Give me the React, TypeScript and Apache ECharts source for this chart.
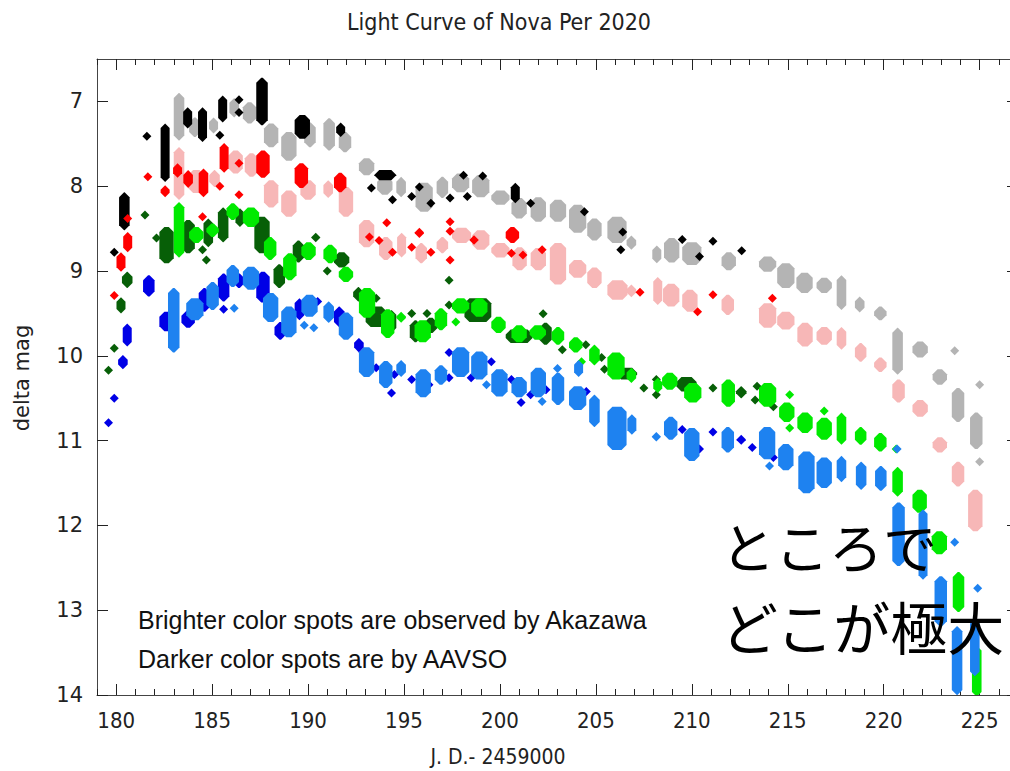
import React, { useEffect, useRef } from "react";
import * as echarts from "echarts";

// Each item: [jdMin, jdMax, magTop, magBottom] (JD - 2459000, delta mag)
const aavsoBlack = [
  [180.15, 180.7, 8.07, 8.52], [179.9, 179.9, 8.78, 8.78], [181.6, 181.6, 7.41, 7.41],
  [182.4, 182.7, 7.26, 7.95], [183.55, 183.9, 7.07, 7.32], [184.3, 184.7, 7.07, 7.48],
  [185.4, 185.7, 6.93, 7.25], [186.4, 186.4, 6.98, 6.98], [186.4, 186.4, 7.13, 7.13],
  [187.3, 187.9, 6.72, 7.28], [185.4, 185.4, 7.4, 7.4], [189.3, 190.1, 7.16, 7.44],
  [191.5, 191.9, 7.25, 7.42], [193.45, 194.6, 7.81, 7.93], [193.3, 193.3, 8.02, 8.02],
  [194.4, 194.4, 8.16, 8.16], [195.4, 195.4, 8.12, 8.12], [195.8, 195.8, 8.01, 8.01],
  [196.4, 196.4, 8.2, 8.2], [197.4, 197.4, 8.14, 8.14], [198.3, 198.3, 8.12, 8.12],
  [198.1, 198.1, 7.87, 7.87], [199.1, 199.1, 7.88, 7.88], [200.6, 201.0, 7.96, 8.2],
  [201.6, 201.6, 8.2, 8.2], [204.4, 204.4, 8.3, 8.3], [206.4, 206.4, 8.54, 8.54],
  [206.3, 206.3, 8.75, 8.75], [209.5, 209.5, 8.63, 8.63], [210.4, 210.4, 8.83, 8.83],
  [211.1, 211.1, 8.65, 8.65], [212.6, 212.6, 8.76, 8.76],
];

const akazawaGray = [
  [183.0, 183.55, 6.9, 7.46], [183.8, 184.4, 7.19, 7.42], [184.85, 185.3, 7.19, 7.38],
  [185.9, 186.4, 6.96, 7.19], [186.6, 187.3, 7.01, 7.26], [187.7, 188.45, 7.26, 7.54],
  [188.6, 189.4, 7.36, 7.7], [189.8, 190.4, 7.25, 7.54], [190.8, 191.4, 7.2, 7.58],
  [191.6, 192.25, 7.36, 7.6], [192.65, 193.45, 7.67, 7.87], [193.6, 194.4, 7.89, 8.1],
  [194.6, 195.1, 7.89, 8.13], [195.6, 196.5, 7.96, 8.3], [196.7, 197.3, 7.89, 8.14],
  [197.5, 198.4, 7.85, 8.07], [198.55, 199.45, 7.87, 8.13], [199.55, 200.5, 8.05, 8.22],
  [200.6, 201.4, 8.14, 8.38], [201.6, 202.4, 8.13, 8.42], [202.6, 203.45, 8.16, 8.42],
  [203.6, 204.5, 8.22, 8.55], [204.55, 205.3, 8.38, 8.64], [205.6, 206.6, 8.36, 8.67],
  [206.6, 207.1, 8.58, 8.75], [207.95, 208.4, 8.7, 8.91], [208.55, 209.35, 8.61, 8.9],
  [209.5, 210.5, 8.66, 8.93], [211.55, 212.3, 8.78, 8.99], [213.5, 214.4, 8.83, 9.01],
  [214.45, 215.35, 8.91, 9.2], [215.45, 216.3, 9.02, 9.26], [216.5, 217.3, 9.08, 9.26],
  [217.55, 218.05, 9.05, 9.46], [218.5, 219.0, 9.3, 9.49], [219.5, 220.15, 9.42, 9.58],
  [220.45, 221.0, 9.67, 10.22], [221.5, 222.3, 9.83, 10.02], [222.55, 223.3, 10.16, 10.34],
  [223.55, 224.2, 10.38, 10.78], [223.7, 223.7, 9.94, 9.94], [224.5, 225.15, 10.67, 11.1],
  [225.0, 225.0, 10.34, 10.34], [225.0, 225.0, 11.25, 11.25],
];

const aavsoRed = [
  [180.6, 180.6, 8.38, 8.38], [180.4, 180.8, 8.54, 8.78], [180.1, 180.4, 8.78, 9.01],
  [179.9, 179.9, 9.29, 9.29], [181.65, 181.65, 7.89, 7.89], [182.5, 182.6, 7.99, 8.13],
  [183.1, 183.3, 7.73, 7.9], [183.5, 184.0, 7.81, 8.02], [184.3, 184.8, 7.79, 8.13],
  [185.4, 185.85, 7.49, 7.84], [185.4, 185.4, 8.0, 8.0], [186.4, 186.4, 8.1, 8.1],
  [186.4, 186.4, 7.73, 7.73], [184.5, 184.5, 8.36, 8.36], [187.3, 188.0, 7.58, 7.9],
  [189.3, 190.0, 7.73, 8.02], [191.35, 192.0, 7.84, 8.07], [193.2, 193.2, 8.6, 8.6],
  [194.1, 194.1, 8.43, 8.43], [193.7, 193.7, 8.64, 8.64], [195.4, 195.4, 8.72, 8.72],
  [194.4, 194.4, 8.78, 8.78], [195.8, 195.8, 8.49, 8.61], [196.4, 196.4, 8.78, 8.78],
  [197.4, 197.4, 8.42, 8.42], [197.4, 197.4, 8.53, 8.53], [197.4, 197.4, 8.87, 8.87],
  [198.4, 198.9, 8.6, 8.67], [200.3, 201.0, 8.48, 8.67], [200.6, 200.6, 8.79, 8.79],
  [201.2, 201.2, 8.81, 8.81], [202.2, 202.2, 8.75, 8.75], [207.3, 207.3, 9.25, 9.25],
  [210.3, 210.3, 9.48, 9.48], [211.1, 211.1, 9.28, 9.28], [214.2, 214.2, 9.32, 9.32],
];

const akazawaPink = [
  [183.0, 183.55, 7.54, 8.16], [183.75, 184.6, 7.81, 8.08], [184.85, 185.4, 7.81, 8.01],
  [185.85, 186.6, 7.58, 7.85], [186.7, 187.4, 7.61, 7.89], [187.7, 188.45, 7.93, 8.25],
  [188.6, 189.4, 8.05, 8.36], [189.6, 190.4, 7.93, 8.16], [190.8, 191.3, 7.93, 8.14],
  [191.6, 192.35, 8.01, 8.36], [192.65, 193.45, 8.4, 8.72], [193.7, 194.4, 8.6, 8.87],
  [194.65, 195.1, 8.55, 8.84], [195.6, 196.2, 8.67, 8.91], [196.7, 197.3, 8.6, 8.79],
  [197.5, 198.5, 8.49, 8.67], [198.55, 199.45, 8.52, 8.75], [199.55, 200.5, 8.67, 8.84],
  [200.65, 201.4, 8.72, 8.99], [201.6, 202.4, 8.73, 8.99], [202.6, 203.45, 8.67, 9.16],
  [203.6, 204.5, 8.87, 9.08], [204.55, 205.3, 8.96, 9.2], [205.6, 206.65, 9.11, 9.34],
  [206.6, 207.1, 9.16, 9.31], [208.05, 208.4, 9.07, 9.4], [208.5, 209.35, 9.15, 9.42],
  [209.5, 210.3, 9.22, 9.48], [211.55, 212.2, 9.28, 9.52], [213.5, 214.4, 9.38, 9.67],
  [214.45, 215.35, 9.48, 9.69], [215.5, 216.3, 9.61, 9.89], [216.5, 217.3, 9.66, 9.87],
  [217.55, 218.05, 9.66, 9.93], [218.5, 219.1, 9.85, 10.07], [219.5, 220.15, 10.02, 10.19],
  [220.45, 221.1, 10.28, 10.55], [221.5, 222.3, 10.52, 10.72], [222.55, 223.3, 10.96, 11.14],
  [223.55, 224.2, 11.25, 11.54], [224.4, 225.15, 11.58, 12.07],
];

const aavsoDarkGreen = [
  [179.6, 179.6, 10.17, 10.17], [179.9, 179.9, 9.91, 9.91], [180.1, 180.4, 9.31, 9.5],
  [180.3, 180.85, 9.01, 9.2], [181.5, 181.5, 8.34, 8.34], [182.1, 182.1, 8.61, 8.61],
  [182.25, 183.0, 8.48, 8.91], [183.4, 184.1, 8.4, 8.79], [184.5, 184.5, 8.75, 8.75],
  [184.7, 184.7, 8.87, 8.87], [184.55, 185.05, 8.38, 8.72], [185.3, 185.85, 8.25, 8.66],
  [186.25, 186.65, 8.26, 8.48], [187.2, 188.0, 8.36, 8.79], [188.2, 188.8, 8.92, 9.2],
  [189.2, 189.8, 8.64, 8.9], [190.4, 190.4, 8.55, 8.66], [191.35, 192.15, 8.78, 8.96],
  [191.0, 191.0, 9.0, 9.0], [192.35, 192.9, 9.19, 9.36], [193.55, 193.55, 9.32, 9.32],
  [193.0, 194.1, 9.42, 9.66], [194.1, 194.6, 9.46, 9.73], [195.4, 195.4, 9.5, 9.5],
  [195.3, 195.9, 9.58, 9.84], [196.2, 196.2, 9.5, 9.5], [196.05, 196.75, 9.55, 9.73],
  [197.35, 197.35, 9.4, 9.4], [197.35, 197.35, 9.11, 9.11], [198.15, 199.55, 9.32, 9.6],
  [200.3, 201.7, 9.69, 9.85], [202.05, 202.7, 9.61, 9.87], [202.25, 202.25, 9.46, 9.55],
  [203.25, 203.25, 9.93, 9.93], [204.3, 204.65, 9.84, 9.9], [205.3, 205.3, 10.02, 10.02],
  [205.45, 205.45, 10.16, 10.16], [206.05, 207.15, 10.14, 10.28], [207.5, 207.5, 10.38, 10.38],
  [208.15, 208.15, 10.28, 10.28], [208.15, 208.15, 10.46, 10.46], [209.2, 210.25, 10.25, 10.42],
  [211.1, 211.1, 10.38, 10.38], [212.3, 212.85, 10.36, 10.5], [213.3, 213.3, 10.52, 10.52],
  [213.4, 213.4, 10.36, 10.36], [214.25, 214.25, 10.6, 10.6],
];

const akazawaGreen = [
  [183.0, 183.55, 8.19, 8.84], [183.8, 184.55, 8.48, 8.67], [184.7, 185.35, 8.44, 8.6],
  [185.75, 186.4, 8.2, 8.4], [186.6, 187.45, 8.25, 8.48], [187.7, 188.35, 8.6, 8.87],
  [188.7, 189.4, 8.79, 9.11], [189.65, 190.4, 8.66, 8.87], [190.8, 191.5, 8.69, 8.91],
  [191.6, 192.35, 8.95, 9.13], [192.65, 193.5, 9.2, 9.55], [193.8, 194.5, 9.45, 9.79],
  [194.6, 195.1, 9.48, 9.61], [195.55, 196.4, 9.58, 9.84], [196.6, 197.25, 9.44, 9.7],
  [197.7, 197.7, 9.6, 9.6], [197.5, 198.4, 9.32, 9.5], [198.5, 199.35, 9.32, 9.54],
  [199.55, 200.3, 9.54, 9.73], [200.6, 201.4, 9.64, 9.84], [201.55, 202.4, 9.64, 9.81],
  [202.7, 203.35, 9.66, 9.87], [203.6, 204.3, 9.78, 9.96], [204.25, 204.25, 10.07, 10.07],
  [204.65, 205.2, 9.87, 10.11], [205.6, 206.5, 9.96, 10.28], [206.6, 207.1, 10.14, 10.32],
  [208.05, 208.4, 10.26, 10.44], [208.45, 209.25, 10.2, 10.4], [209.6, 210.5, 10.32, 10.55],
  [211.55, 212.25, 10.28, 10.6], [213.5, 214.4, 10.32, 10.6], [214.55, 215.35, 10.55, 10.78],
  [215.1, 215.1, 10.46, 10.46], [215.1, 215.1, 10.85, 10.85], [215.5, 216.3, 10.67, 10.91],
  [216.5, 217.3, 10.73, 10.99], [216.9, 216.9, 10.65, 10.65], [217.55, 218.05, 10.67, 11.05],
  [218.5, 219.1, 10.84, 11.05], [219.5, 220.15, 10.91, 11.13], [220.65, 220.65, 11.1, 11.1],
  [220.45, 221.0, 11.31, 11.66], [221.5, 222.25, 11.58, 11.85], [222.5, 223.3, 12.07, 12.34],
  [223.6, 224.2, 12.55, 13.02], [224.6, 225.1, 13.42, 14.02],
];

const aavsoDarkBlue = [
  [179.6, 179.6, 10.79, 10.79], [179.9, 179.9, 10.5, 10.5], [180.1, 180.6, 9.99, 10.16],
  [180.35, 180.8, 9.62, 9.89], [181.4, 182.0, 9.05, 9.3], [182.25, 183.05, 9.48, 9.71],
  [183.4, 184.1, 9.47, 9.67], [184.3, 184.9, 9.2, 9.48], [185.3, 185.9, 9.03, 9.36],
  [185.6, 185.6, 9.45, 9.45], [186.1, 186.7, 9.03, 9.2], [187.3, 188.0, 9.01, 9.37],
  [188.25, 188.85, 9.6, 9.81], [189.3, 189.8, 9.32, 9.58], [190.5, 190.5, 9.36, 9.36],
  [191.35, 191.9, 9.42, 9.66], [192.4, 192.9, 9.79, 9.96], [192.65, 192.65, 9.85, 9.85],
  [193.55, 193.55, 10.14, 10.14], [194.35, 194.35, 10.44, 10.44], [194.5, 194.5, 10.22, 10.22],
  [195.4, 195.4, 10.28, 10.28], [196.3, 196.3, 10.34, 10.34], [197.35, 197.35, 9.96, 9.96],
  [197.35, 197.35, 10.26, 10.26], [198.5, 198.5, 10.26, 10.26], [199.55, 199.55, 10.07, 10.07],
  [200.6, 200.6, 10.28, 10.28], [201.1, 201.1, 10.55, 10.55], [201.6, 201.6, 10.46, 10.46],
  [202.4, 202.4, 10.4, 10.4], [204.5, 204.5, 10.42, 10.42], [209.5, 209.5, 10.87, 10.87],
  [210.4, 210.4, 11.1, 11.1], [211.1, 211.1, 10.9, 10.9], [212.4, 212.75, 10.93, 11.05],
  [213.15, 213.15, 11.08, 11.08], [214.25, 214.25, 11.2, 11.2],
];

const akazawaBlue = [
  [182.7, 183.3, 9.2, 9.96], [183.65, 184.55, 9.32, 9.58], [184.7, 185.35, 9.13, 9.46],
  [185.75, 186.4, 8.93, 9.19], [186.15, 186.15, 9.44, 9.44], [186.6, 187.45, 8.95, 9.22],
  [187.65, 188.45, 9.26, 9.6], [188.6, 189.4, 9.42, 9.78], [189.65, 190.5, 9.28, 9.54],
  [189.8, 189.8, 9.64, 9.64], [190.3, 190.3, 9.67, 9.67], [190.8, 191.35, 9.36, 9.61],
  [191.6, 192.35, 9.49, 9.81], [192.65, 193.45, 9.9, 10.25], [193.7, 194.4, 10.06, 10.38],
  [194.6, 195.1, 10.05, 10.25], [195.6, 196.4, 10.16, 10.49], [196.6, 197.25, 10.11, 10.34],
  [197.5, 198.4, 9.9, 10.25], [198.5, 199.35, 9.95, 10.28], [199.3, 199.3, 10.34, 10.34],
  [199.55, 200.4, 10.16, 10.48], [200.6, 201.4, 10.25, 10.49], [201.6, 202.4, 10.14, 10.49],
  [202.2, 202.2, 10.54, 10.54], [202.7, 203.35, 10.2, 10.58], [203.0, 203.0, 10.15, 10.15],
  [203.6, 204.5, 10.36, 10.64], [204.1, 204.1, 10.05, 10.25], [204.65, 205.2, 10.46, 10.84],
  [205.6, 206.6, 10.6, 11.11], [206.65, 207.1, 10.69, 10.93], [208.15, 208.15, 10.9, 11.01],
  [208.55, 209.25, 10.72, 10.99], [209.6, 210.4, 10.85, 11.24], [211.55, 212.2, 10.84, 11.14],
  [213.5, 214.35, 10.84, 11.22], [214.05, 214.05, 11.3, 11.3], [214.5, 215.3, 11.04, 11.35],
  [215.55, 216.4, 11.13, 11.62], [216.5, 217.3, 11.2, 11.56], [217.55, 218.05, 11.18, 11.49],
  [218.55, 219.1, 11.25, 11.58], [219.55, 220.15, 11.3, 11.59], [220.7, 220.7, 11.1, 11.1],
  [220.45, 221.1, 11.73, 12.48], [221.85, 222.25, 11.81, 12.64], [222.65, 223.3, 12.6, 13.19],
  [223.7, 223.7, 12.2, 12.2], [223.55, 224.1, 13.19, 14.0], [224.9, 224.9, 12.69, 12.79],
  [224.5, 225.0, 13.1, 13.78],
];

const xMajorTicks = [180, 185, 190, 195, 200, 205, 210, 215, 220, 225];
const yTicks = [7, 8, 9, 10, 11, 12, 13, 14];

const seriesList = [
  { name: "Akazawa gray", data: akazawaGray, color: "#b4b4b4" },
  { name: "AAVSO black", data: aavsoBlack, color: "#000000" },
  { name: "Akazawa pink", data: akazawaPink, color: "#f7b7b7" },
  { name: "AAVSO red", data: aavsoRed, color: "#ff0000" },
  { name: "AAVSO dark green", data: aavsoDarkGreen, color: "#075f07" },
  { name: "Akazawa green", data: akazawaGreen, color: "#00ea00" },
  { name: "AAVSO dark blue", data: aavsoDarkBlue, color: "#0000e6" },
  { name: "Akazawa blue", data: akazawaBlue, color: "#1e82f0" },
];

function makeRender(color: string) {
  return (params: any, api: any) => {
    const a = api.coord([api.value(0), api.value(2)]);
    const b = api.coord([api.value(1), api.value(3)]);
    let L = Math.min(a[0], b[0]);
    let R = Math.max(a[0], b[0]);
    let T = Math.min(a[1], b[1]);
    let B = Math.max(a[1], b[1]);
    const m = 9;
    if (R - L < m) {
      const c = (L + R) / 2;
      L = c - m / 2;
      R = c + m / 2;
    }
    if (B - T < m) {
      const c = (T + B) / 2;
      T = c - m / 2;
      B = c + m / 2;
    }
    const w = R - L;
    const h = B - T;
    const k = Math.min(w / 2, h / 2, 5);
    const points = [
      [L + k, T], [R - k, T], [R, T + k], [R, B - k],
      [R - k, B], [L + k, B], [L, B - k], [L, T + k],
    ];
    return { type: "polygon", shape: { points }, style: { fill: color } };
  };
}

const axisColor = "#444";
const X_MIN = 179;
const X_MAX = 227;
const Y_MIN = 6.5;
const Y_MAX = 14;

function textEl(text: string, x: number, y: number, size: number, family: string, align: string, extra: any = {}) {
  return {
    type: "text",
    x,
    y,
    z: 100,
    ...extra,
    style: {
      text,
      fontSize: size,
      fontFamily: family,
      fill: extra.fill || "#222",
      align,
      verticalAlign: "middle",
      textAlign: align,
      textVerticalAlign: "middle",
    },
  };
}

export default function App() {
  const ref = useRef<HTMLDivElement>(null);
  useEffect(() => {
    if (!ref.current) return;
    const chart = echarts.init(ref.current, undefined, { renderer: "svg" });
    const minorTicks: number[] = [];
    for (let v = X_MIN; v <= X_MAX; v++) minorTicks.push(v);
    const xBase = {
      type: "value",
      min: X_MIN,
      max: X_MAX,
      splitLine: { show: false },
    };
    const option: any = {
      animation: false,
      backgroundColor: "#ffffff",
      grid: { left: 97, top: 59, width: 921, height: 636, outerBoundsMode: "none", containLabel: false },
      xAxis: [
        {
          ...xBase,
          position: "bottom",
          axisLine: { show: true, lineStyle: { color: axisColor, width: 1 } },
          axisTick: { show: true, inside: true, length: 11, customValues: xMajorTicks, lineStyle: { color: "#222" } },
          axisLabel: {
            show: true,
            customValues: xMajorTicks,
            margin: 14,
            fontSize: 22,
            fontFamily: "DejaVu Sans Condensed, DejaVu Sans",
            color: "#222",
          },
        },
        {
          ...xBase,
          position: "bottom",
          axisLine: { show: false },
          axisTick: { show: true, inside: true, length: 6, customValues: minorTicks, lineStyle: { color: "#222" } },
          axisLabel: { show: false },
        },
        {
          ...xBase,
          position: "top",
          axisLine: { show: true, lineStyle: { color: axisColor, width: 1 } },
          axisTick: { show: true, inside: true, length: 11, customValues: xMajorTicks, lineStyle: { color: "#222" } },
          axisLabel: { show: false },
        },
        {
          ...xBase,
          position: "top",
          axisLine: { show: false },
          axisTick: { show: true, inside: true, length: 6, customValues: minorTicks, lineStyle: { color: "#222" } },
          axisLabel: { show: false },
        },
      ],
      yAxis: [
        {
          type: "value",
          min: Y_MIN,
          max: Y_MAX,
          inverse: true,
          position: "left",
          splitLine: { show: false },
          axisLine: { show: true, lineStyle: { color: axisColor, width: 1 } },
          axisTick: { show: true, inside: true, length: 11, customValues: yTicks, lineStyle: { color: "#222" } },
          axisLabel: {
            show: true,
            customValues: yTicks,
            margin: 14,
            fontSize: 21,
            fontFamily: "DejaVu Sans",
            color: "#222",
          },
        },
        {
          type: "value",
          min: Y_MIN,
          max: Y_MAX,
          inverse: true,
          position: "right",
          splitLine: { show: false },
          axisLine: { show: true, lineStyle: { color: axisColor, width: 1 } },
          axisTick: { show: true, inside: true, length: 11, customValues: yTicks, lineStyle: { color: "#222" } },
          axisLabel: { show: false },
        },
      ],
      series: seriesList.map((s) => ({
        type: "custom",
        name: s.name,
        xAxisIndex: 0,
        yAxisIndex: 0,
        clip: true,
        data: s.data,
        encode: { x: [0, 1], y: [2, 3] },
        renderItem: makeRender(s.color),
      })),
      graphic: [
        textEl("Light Curve of Nova Per 2020", 499, 22, 23, "DejaVu Sans Condensed, DejaVu Sans", "center"),
        textEl("delta mag", 22, 378, 21, "DejaVu Sans", "center", { rotation: Math.PI / 2 }),
        textEl("J. D.- 2459000", 498, 757, 21, "DejaVu Sans Condensed, DejaVu Sans", "center"),
        textEl("Brighter color spots are observed by Akazawa", 138, 620, 25, "Liberation Sans, Arial, sans-serif", "left", { fill: "#111" }),
        textEl("Darker color spots are by AAVSO", 138, 659, 25, "Liberation Sans, Arial, sans-serif", "left", { fill: "#111" }),
        textEl("ところで", 721, 545, 54, "Noto Sans CJK JP", "left", { fill: "#000" }),
        textEl("どこが極大", 721, 625, 57, "Noto Sans CJK JP", "left", { fill: "#000" }),
      ],
    };
    chart.setOption(option);
    return () => chart.dispose();
  }, []);
  return (
    <div
      ref={ref}
      style={{ position: "fixed", left: 0, top: 0, width: 1010, height: 771, background: "#fff" }}
    />
  );
}
